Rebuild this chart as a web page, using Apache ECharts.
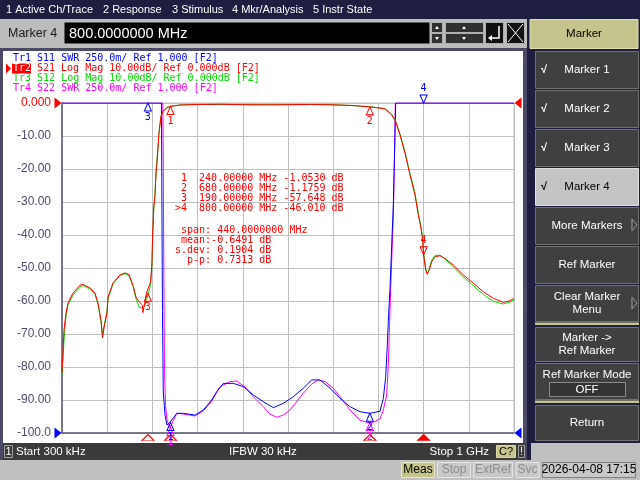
<!DOCTYPE html>
<html>
<head>
<meta charset="utf-8">
<script src="https://cdn.jsdelivr.net/npm/echarts@6/dist/echarts.min.js"></script>
<style>
  html, body { margin: 0; padding: 0; background: #1e1e40; }
  #chart { width: 640px; height: 480px; }
</style>
</head>
<body>
<div id="chart"></div>
<script>
// ---- trace data: [frequency MHz, value] ----
// Tr2 S21 Log Mag (dB)
const s21 = [
  [0, -81.8], [4.4, -68.8], [8.8, -63.7], [13.3, -60.6], [24.3, -57.6], [39.8, -55.2],
  [46.5, -55.0], [61.9, -56.0], [73, -57.6], [79.6, -60.6], [86.3, -65.8], [89.6, -71.2],
  [92.9, -68.2], [99.6, -63.6], [101.8, -58.8], [112.8, -54.5], [128.3, -52.1], [139.4, -51.5],
  [148.2, -52.0], [157.1, -55.2], [163.7, -58.8], [170.4, -60.2], [177.9, -61.2], [179.2, -63.5],
  [183, -60.6], [186.7, -57.6], [190, -57.65], [196, -54.2], [198.5, -49.6], [199.1, -48.0],
  [200.7, -39.4], [202.9, -31.8], [205.8, -28.0], [208, -21.2], [210.2, -18.0], [212.4, -13.6],
  [214.6, -9.2], [217.5, -5.8], [219, -4.1], [223.5, -2.6], [232.3, -1.4], [240, -1.05],
  [261, -0.6], [300, -0.45], [350, -0.4], [400, -0.5], [450, -0.55], [500, -0.5],
  [550, -0.45], [600, -0.55], [640, -0.75], [660, -0.95], [681, -1.18], [695, -1.4],
  [714.6, -1.8], [729.4, -3.6], [738.3, -5.7], [747.8, -9.7], [758.8, -15.2], [769.9, -21.8],
  [781, -27.9], [788.3, -33.9], [793.6, -37.5], [798, -41.5], [800, -46.0], [804.6, -50.6],
  [808.2, -51.9], [812.6, -50.6], [817.9, -48.1], [825.2, -46.6], [836.3, -46.3], [847.3, -47.1],
  [865.7, -49.1], [887.8, -52.1], [910, -54.6], [932, -57.2], [954.2, -59.2], [976.3, -60.4],
  [991.2, -59.9], [1000, -59.2]
];
// Tr3 S12 Log Mag (dB)
const s12 = [
  [0, -82.5], [4.4, -72.0], [8.8, -64.5], [13.3, -61.2], [24.3, -58.2], [39.8, -55.8],
  [46.5, -55.3], [61.9, -56.4], [73, -58.0], [79.6, -61.0], [86.3, -66.4], [89.6, -70.0],
  [92.9, -67.6], [99.6, -63.0], [101.8, -59.4], [112.8, -54.8], [128.3, -52.3], [139.4, -51.7],
  [148.2, -52.3], [157.1, -55.6], [163.7, -59.3], [170.4, -61.8], [177.9, -62.2], [183, -61.5],
  [186.7, -59.5], [190, -58.4], [196, -55.0], [198.5, -50.5], [199.1, -48.5], [200.7, -40.2],
  [202.9, -32.6], [205.8, -27.4], [208, -20.6], [210.2, -17.4], [212.4, -13.2], [214.6, -9.0],
  [217.5, -5.6], [219, -4.0], [223.5, -2.5], [232.3, -1.35], [240, -1.0], [261, -0.6],
  [300, -0.45], [350, -0.4], [400, -0.5], [450, -0.55], [500, -0.5], [550, -0.45],
  [600, -0.55], [640, -0.75], [660, -0.95], [681, -1.15], [695, -1.35], [714.6, -1.7],
  [729.4, -3.4], [738.3, -5.5], [747.8, -9.4], [758.8, -14.8], [769.9, -21.3], [781, -27.4],
  [788.3, -33.3], [793.6, -37.0], [798, -41.0], [800, -45.3], [804.6, -50.2], [808.2, -51.6],
  [812.6, -50.3], [817.9, -47.6], [825.2, -46.2], [836.3, -46.1], [847.3, -47.3], [865.7, -49.6],
  [887.8, -52.7], [910, -55.3], [932, -58.0], [954.2, -60.1], [976.3, -60.9], [991.2, -60.3],
  [1000, -59.6]
];
// Tr1 S11 SWR (clipped at 3.5 on screen)
const s11 = [
  [0, 3.5], [220, 3.5], [221.2, 2.63], [222.3, 1.92], [224.1, 1.31], [227.9, 1.136],
  [232.3, 1.06], [238.9, 1.08], [253.8, 1.149], [268.4, 1.149], [294.2, 1.136], [312.6, 1.174],
  [331.2, 1.25], [342.3, 1.313], [356.9, 1.376], [379, 1.376], [401.1, 1.351], [423.2, 1.288],
  [445.4, 1.237], [467.5, 1.192], [489.6, 1.225], [511.7, 1.275], [533.8, 1.339], [552.4, 1.402],
  [570.8, 1.402], [592.9, 1.339], [615, 1.263], [637.2, 1.199], [659.3, 1.161], [681.4, 1.149],
  [703.5, 1.165], [710.8, 1.26], [716, 1.42], [719.5, 1.65], [722, 1.85], [725.7, 2.10],
  [729.4, 2.42], [733, 2.73], [735.2, 3.05], [738.3, 3.5], [1000, 3.5]
];
// Tr4 S22 SWR
const s22 = [
  [0, 3.5], [223, 3.5], [224.1, 3.07], [224.6, 2.6], [225.7, 2.0], [226.8, 1.48],
  [229, 1.21], [232.3, 1.1], [238.9, 1.04], [253.8, 1.149], [268.4, 1.144], [294.2, 1.129],
  [312.6, 1.167], [331.2, 1.242], [349.6, 1.351], [371.7, 1.389], [386.5, 1.394], [404.9, 1.348],
  [423.2, 1.275], [445.4, 1.199], [460.2, 1.144], [475, 1.119], [489.6, 1.136], [504.4, 1.174],
  [533.8, 1.301], [552.4, 1.371], [567, 1.402], [581.9, 1.389], [600.2, 1.339], [615, 1.275],
  [637.2, 1.174], [659.3, 1.098], [674.1, 1.081], [688.7, 1.081], [703.5, 1.106], [710.8, 1.174],
  [718.4, 1.288], [721.9, 1.515], [725.7, 1.932], [729.4, 2.31], [733, 2.65], [735.6, 3.07],
  [737.4, 3.5], [1000, 3.5]
];

// markers
const markerNames = ['1', '2', '3', '4'];
const markerFreq = [240, 681, 190, 800];
const markerS21 = [-1.053, -1.1759, -57.648, -46.01];
const markerS11 = [1.08, 1.15, 3.5, 3.5];
const markerS22 = [1.04, 1.08];
const activeMarker = 3;

// texts
const menuItems = ['1 Active Ch/Trace', '2 Response', '3 Stimulus', '4 Mkr/Analysis', '5 Instr State'];
const traceHeaders = [
  'Tr1 S11 SWR 250.0m/ Ref 1.000 [F2]',
  'S21 Log Mag 10.00dB/ Ref 0.000dB [F2]',
  'Tr3 S12 Log Mag 10.00dB/ Ref 0.000dB [F2]',
  'Tr4 S22 SWR 250.0m/ Ref 1.000 [F2]'
];
const readoutLines = [
  ' 1  240.00000 MHz -1.0530 dB',
  ' 2  680.00000 MHz -1.1759 dB',
  ' 3  190.00000 MHz -57.648 dB',
  '>4  800.00000 MHz -46.010 dB'
];
const statLines = [' span: 440.0000000 MHz', ' mean:-0.6491 dB', 's.dev: 0.1904 dB', '  p-p: 0.7313 dB'];
const softkeys = ['Marker 1', 'Marker 2', 'Marker 3', 'Marker 4', 'More Markers', 'Ref Marker',
  'Clear Marker\nMenu', 'Marker ->\nRef Marker', 'Ref Marker Mode', 'Return'];

// ---- colours / fonts ----
const RED = '#ff0000', BLUE = '#0000ff', GREEN = '#00dd00', MAG = '#ff00ff';
const MONO = '10px "DejaVu Sans Mono"';
const SANS = '"Liberation Sans"';

function rect(x, y, w, h, fill, stroke, z) {
  return { type: 'rect', silent: true, z: z === undefined ? -1 : z,
    shape: { x: x, y: y, width: w, height: h },
    style: { fill: fill, stroke: stroke || null, lineWidth: stroke ? 1 : 0 } };
}
function text(x, y, str, fill, font, align, z) {
  return { type: 'text', silent: true, z: z === undefined ? 50 : z, x: x, y: y,
    style: { text: str, fill: fill, font: font, align: align || 'left', textAlign: align || 'left',
      verticalAlign: 'middle', textVerticalAlign: 'middle', lineHeight: 13 } };
}
function poly(points, fill, stroke, z) {
  return { type: 'polygon', silent: true, z: z === undefined ? 5 : z,
    shape: { points: points }, style: { fill: fill || null, stroke: stroke || null, lineWidth: 1 } };
}

const g = [];
// top menu bar
g.push(rect(0, 0, 640, 19, '#1e1e40'));
const menuX = [6, 103, 172, 232, 313];
menuItems.forEach((m, i) => g.push(text(menuX[i], 9.5, m, '#ffffff', '11px ' + SANS)));
// entry row
g.push(rect(0, 19, 527, 29, '#bcbcbc'));
g.push(text(8, 34, 'Marker 4', '#1a1a1a', '12.5px ' + SANS));
g.push(rect(64.5, 22.5, 365, 21, '#000000'));
g.push(text(69, 33.5, '800.0000000 MHz', '#ffffff', '14.5px ' + SANS));
g.push(rect(431.5, 22.5, 11, 10, '#303030', '#b0b0b0'), rect(431.5, 33.5, 11, 10, '#303030', '#b0b0b0'));
g.push(rect(445.5, 22.5, 38, 10, '#303030', '#b0b0b0'), rect(445.5, 33.5, 38, 10, '#303030', '#b0b0b0'));
g.push(poly([[435, 29], [437, 26], [439, 29]], '#ffffff', null, 1), poly([[435, 37], [437, 40], [439, 37]], '#ffffff', null, 1));
g.push(poly([[462, 29], [464, 26], [466, 29]], '#ffffff', null, 1), poly([[462, 37], [464, 40], [466, 37]], '#ffffff', null, 1));
g.push(rect(485.5, 22.5, 18, 21, '#101010', '#b0b0b0'), rect(506.5, 22.5, 18, 21, '#101010', '#b0b0b0'));
g.push({ type: 'polyline', silent: true, z: 1, shape: { points: [[499, 26], [499, 38], [489, 38]] }, style: { stroke: '#ffffff', lineWidth: 1.5 } });
g.push(poly([[488, 38], [492, 35], [492, 41]], '#ffffff', null, 1));
g.push({ type: 'line', silent: true, z: 1, shape: { x1: 508, y1: 24, x2: 523, y2: 42 }, style: { stroke: '#ffffff' } });
g.push({ type: 'line', silent: true, z: 1, shape: { x1: 523, y1: 24, x2: 508, y2: 42 }, style: { stroke: '#ffffff' } });

// chart window frame
g.push(rect(0, 48, 527, 412, '#4a4a66'));
g.push(rect(3, 51, 520, 392, '#ffffff'));
// channel status bar
g.push(rect(3, 443, 522, 17, '#3a3a3a'));
g.push(rect(4.5, 445.5, 8, 12, '#3a3a3a', '#a0a0a0'));
g.push(text(8.5, 452, '1', '#ffffff', '11px ' + SANS, 'center'));
g.push(text(16, 452, 'Start 300 kHz', '#ffffff', '11.5px ' + SANS));
g.push(text(229, 452, 'IFBW 30 kHz', '#ffffff', '11.5px ' + SANS));
g.push(text(489, 452, 'Stop 1 GHz', '#ffffff', '11.5px ' + SANS, 'right'));
g.push(rect(496.5, 445.5, 19, 12, '#c4c48c', '#d8d8a8'));
g.push(text(506, 452, 'C?', '#000000', '11px ' + SANS, 'center'));
g.push(rect(518.5, 445.5, 6, 12, '#3a3a3a', '#a0a0a0'));
g.push(text(521.5, 452, '!', '#ffffff', '11px ' + SANS, 'center'));

// bottom status bar
g.push(rect(0, 460, 640, 20, '#c0c0c0'));
g.push(rect(401.5, 462.5, 33, 15, '#c4c48c', '#e8e8c8'));
g.push(text(418, 470, 'Meas', '#000000', '12px ' + SANS, 'center'));
[['Stop', 437.5, 33], ['ExtRef', 473.5, 39], ['Svc', 516, 23]].forEach(b => {
  g.push(rect(b[1], 462.5, b[2], 15, '#c8c8c8', '#e4e4e4'));
  g.push(text(b[1] + b[2] / 2, 470, b[0], '#8e8e8e', '12px ' + SANS, 'center'));
});
g.push(rect(542.5, 462.5, 93, 15, '#c8c8c8', '#808080'));
g.push(text(589, 470, '2026-04-08 17:15', '#000000', '12px ' + SANS, 'center'));

// right softkey panel
g.push(rect(527, 19, 113, 441, '#1e1e40'));
g.push(rect(530, 19.5, 108, 29, '#c4c48c', '#e0e0b0'));
g.push(text(584, 34, 'Marker', '#000000', '11.5px ' + SANS, 'center'));
const keyTop = [51, 90, 129, 168, 207, 246, 285, 327, 363, 405];
const keyH = [37, 37, 37, 37, 37, 37, 36, 34, 36, 35];
softkeys.forEach((k, i) => {
  const light = i === 3;
  g.push(rect(535.5, keyTop[i] + 0.5, 103, keyH[i], light ? '#c4c4c4' : '#404040', light ? '#e0e0e0' : '#707070'));
  const ty = i === 8 ? keyTop[i] + 12 : keyTop[i] + keyH[i] / 2 + 0.5;
  g.push(text(587, ty, k, light ? '#000000' : '#ffffff', '11.5px ' + SANS, 'center'));
  if (i < 4) g.push(text(541, keyTop[i] + keyH[i] / 2 + 0.5, '\u221a', light ? '#000000' : '#ffffff', 'bold 11px ' + SANS));
  if (i === 4 || i === 6) g.push(poly([[632, keyTop[i] + 12], [637, keyTop[i] + 18], [632, keyTop[i] + 24]], null, '#9a9a9a', 1));
});
g.push(rect(549.5, 382.5, 76, 14, '#333333', '#8a8a8a', 1));
g.push(text(587, 389.5, 'OFF', '#ffffff', '11.5px ' + SANS, 'center'));
g.push(rect(535, 322.5, 104, 2.5, '#c4c48c', null, 1), rect(535, 400.5, 104, 2.5, '#c4c48c', null, 1));
g.push(rect(531, 443, 109, 17, '#c0c0c0'));

// trace headers
const hdrY = [58, 68.5, 78.5, 88.5];
g.push(text(13, hdrY[0], traceHeaders[0], BLUE, MONO));
g.push(poly([[6, 63.5], [11, 68.5], [6, 73.5]], RED, null, 50));
g.push(rect(12, 63.5, 19, 10, RED, null, 49));
g.push(text(13, hdrY[1], 'Tr2', '#ffffff', MONO));
g.push(text(37, hdrY[1], traceHeaders[1], RED, MONO));
g.push(text(13, hdrY[2], traceHeaders[2], GREEN, MONO));
g.push(text(13, hdrY[3], traceHeaders[3], MAG, MONO));
// marker readout
readoutLines.forEach((l, i) => g.push(text(175, 178.5 + i * 10, l, RED, MONO)));
statLines.forEach((l, i) => g.push(text(175, 230 + i * 10, l, RED, MONO)));

// ---- marker helpers (through axis coordinates) ----
function mk(coord, label, color, active, filled) {
  return {
    coord: coord, symbol: 'triangle', symbolSize: [7, 8],
    symbolRotate: active ? 180 : 0, symbolOffset: [0, active ? -4 : 4],
    itemStyle: { color: filled ? color : 'rgba(255,255,255,0)', borderColor: color, borderWidth: 1 },
    label: { show: true, formatter: label, position: active ? 'top' : 'bottom', distance: 1,
      color: color, fontSize: 10, fontFamily: 'DejaVu Sans Mono' }
  };
}
function refTri(coord, color, right) {
  return { coord: coord, symbol: 'triangle', symbolSize: [11, 7], symbolRotate: right ? 90 : -90,
    symbolOffset: [right ? 4 : -4, 0], itemStyle: { color: color }, label: { show: false } };
}
function stim(coord, color, filled) {
  return { coord: coord, symbol: 'triangle', symbolSize: [12, 6], symbolOffset: [0, 4.5],
    itemStyle: { color: filled ? color : 'rgba(255,255,255,0)', borderColor: color, borderWidth: 1 },
    label: { show: false } };
}

const s21Marks = markerFreq.map((f, i) => mk([f, markerS21[i]], markerNames[i], RED, i === activeMarker, false));
markerFreq.forEach((f, i) => s21Marks.push(stim([f, -100], RED, i === activeMarker)));
s21Marks.push(refTri([0, 0], RED, false), refTri([1000, 0], RED, true));

const s11Marks = markerFreq.map((f, i) => mk([f, markerS11[i]], markerNames[i], BLUE, i === activeMarker, false));
s11Marks.push(refTri([0, 1], BLUE, false), refTri([1000, 1], BLUE, true));
const s22Marks = markerS22.map((v, i) => mk([markerFreq[i], v], markerNames[i], MAG, false, false));

function line(name, data, color, yIdx, z, marks) {
  return {
    type: 'line', name: name, data: data, yAxisIndex: yIdx, z: z,
    showSymbol: false, symbol: 'none', animation: false, clip: true,
    lineStyle: { color: color, width: 1 }, itemStyle: { color: color },
    markPoint: marks ? { data: marks, animation: false, silent: true } : undefined
  };
}

const chart = echarts.init(document.getElementById('chart'), null, { renderer: 'canvas' });
chart.setOption({
  backgroundColor: '#1e1e40',
  animation: false,
  graphic: { elements: g },
  grid: { left: 62, right: 126, top: 103, bottom: 47, show: true, borderColor: '#c0c0c0', borderWidth: 1 },
  xAxis: {
    type: 'value', min: 0, max: 1000, interval: 100,
    axisLine: { show: true, onZero: false, lineStyle: { color: '#5a5a70', width: 1.5 } },
    axisTick: { show: false }, axisLabel: { show: false },
    splitLine: { show: true, lineStyle: { color: '#c0c0c0', width: 1 } }
  },
  yAxis: [{
    type: 'value', min: -100, max: 0, interval: 10, position: 'left',
    axisLine: { show: true, onZero: false, lineStyle: { color: '#5a5a78', width: 1.5 } },
    axisTick: { show: false },
    splitLine: { show: true, lineStyle: { color: '#c0c0c0', width: 1 } },
    axisLabel: {
      margin: 11, color: '#4c4c6c', fontSize: 12, fontFamily: 'Liberation Sans',
      formatter: v => v === 0 ? '{r|0.000}' : (v === -100 ? '-100.0' : v.toFixed(2)),
      rich: { r: { color: RED, fontSize: 12, fontFamily: 'Liberation Sans' } }
    }
  }, {
    type: 'value', min: 1, max: 3.5, show: false, splitLine: { show: false }
  }],
  series: [
    line('S22', s22, MAG, 1, 2, s22Marks),
    line('S11', s11, BLUE, 1, 3, s11Marks),
    line('S12', s12, GREEN, 0, 4, null),
    line('S21', s21, RED, 0, 5, s21Marks)
  ]
});
</script>
</body>
</html>
